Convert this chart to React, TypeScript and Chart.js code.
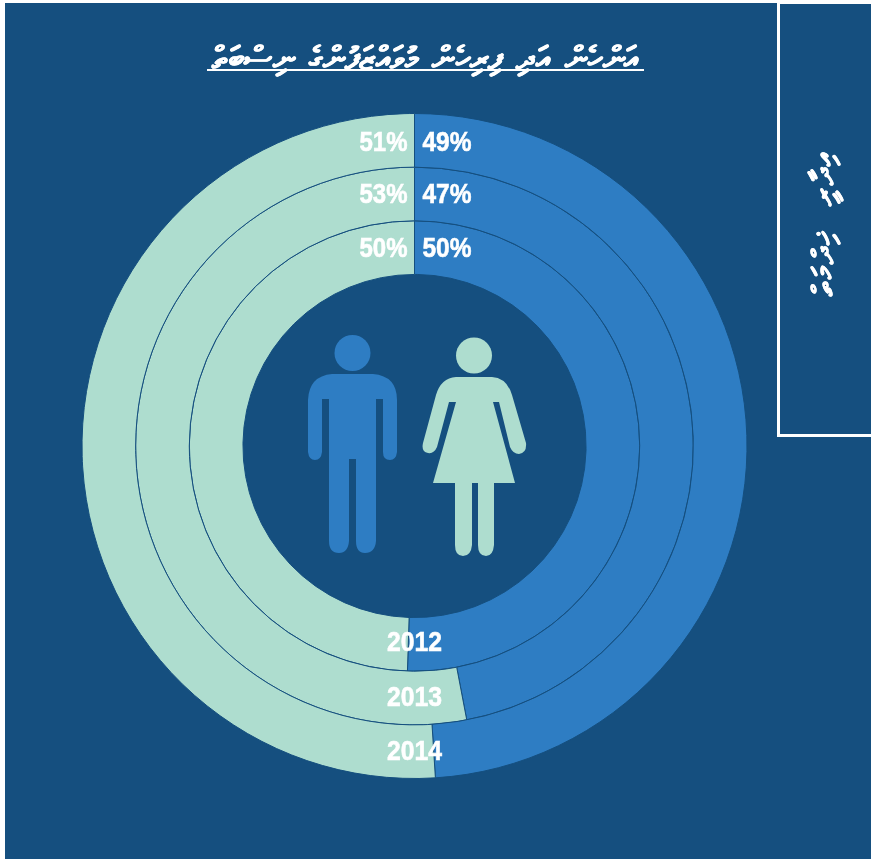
import React, { useEffect, useRef } from "react";
import { Chart, registerables } from "chart.js";

Chart.register(...registerables);

const titleText = "އަންހެން އަދި ފިރިހެން މުވައްޒަފުންގެ ނިސްބަތް";
const sideText = "އިދާރީ ޚިދްމަތް";
const categories = ["Men", "Women"];
const years = ["2014", "2013", "2012"];
const menValues = [49, 47, 50.5];
const womenValues = [51, 53, 49.5];
const menLabels = ["49%", "47%", "50%"];
const womenLabels = ["51%", "53%", "50%"];

const BG = "#154f7f";
const BLUE = "#2e7dc3";
const MINT = "#aeddcf";
const LABEL_FONT = 'bold 28px "Liberation Sans", sans-serif';
const THAANA = '"Noto Sans", "DejaVu Sans", sans-serif';
const topNudge = [3, 1, 2];
const bottomNudge = [1, 0, -1];

const ringLabels = {
  id: "ringLabels",
  afterDatasetsDraw(chart: any) {
    const ctx = chart.ctx;
    ctx.save();
    ctx.font = LABEL_FONT;
    ctx.fillStyle = "#ffffff";
    ctx.strokeStyle = "#ffffff";
    ctx.lineWidth = 0.6;
    ctx.textBaseline = "middle";
    const put = (text: string, x: number, y: number, w: number) => {
      ctx.fillText(text, x, y, w);
      ctx.strokeText(text, x, y, w);
    };
    years.forEach((year, i) => {
      const arc = chart.getDatasetMeta(i).data[0];
      const mid = (arc.innerRadius + arc.outerRadius) / 2;
      const topY = arc.y - mid + topNudge[i];
      ctx.textAlign = "right";
      put(womenLabels[i], arc.x - 7, topY, 48);
      ctx.textAlign = "left";
      put(menLabels[i], arc.x + 8, topY, 49);
      ctx.textAlign = "center";
      put(year, arc.x, arc.y + mid + bottomNudge[i], 55);
    });
    ctx.restore();
  },
};

function People() {
  return (
    <svg width={871} height={859} style={{ position: "absolute", left: 0, top: 0, pointerEvents: "none" }}>
      <g fill={BLUE}>
        <circle cx={352.5} cy={353} r={18} />
        <path d="M332 374 H373 Q397 376 397 400 V452 Q396 460 390 460 Q383 460 383 452 V399 H376 V541 Q375 553 365 553 Q356 553 356 541 V459 H349 V541 Q348 553 339 553 Q329 553 329 541 V399 H322 V452 Q321 460 315 460 Q309 460 308 452 V400 Q309 376 332 374 Z" />
      </g>
      <g fill={MINT}>
        <circle cx={474} cy={355.5} r={18} />
        <path d="M456 377 H492 Q507 378 512 395 L526 443 Q527 453 519 454 Q513 454 510 447 L499 402 H493 L515 483 H494 V545 Q493 556 486 556 Q478 556 478 545 V483 H472 V545 Q471 556 463 556 Q455 556 455 545 V483 H433 L456 402 H449 L437 447 Q434 454 428 453 Q421 452 423 443 L436 395 Q441 378 456 377 Z" />
      </g>
    </svg>
  );
}

export default function App() {
  const ref = useRef<HTMLCanvasElement>(null);
  useEffect(() => {
    const chart = new Chart(ref.current!, {
      type: "doughnut",
      data: {
        labels: categories,
        datasets: years.map((year, i) => ({
          label: year,
          data: [menValues[i], womenValues[i]],
          backgroundColor: [BLUE, MINT],
          borderColor: BG,
          borderWidth: 1,
        })),
      },
      options: {
        animation: false,
        responsive: false,
        cutout: "51.6%",
        layout: { padding: { left: 81.5, right: 123.5, top: 113, bottom: 80 } },
        plugins: { legend: { display: false }, tooltip: { enabled: false } },
      },
      plugins: [ringLabels],
    });
    return () => chart.destroy();
  }, []);

  return (
    <div style={{ position: "absolute", left: 0, top: 0, width: 871, height: 859, background: "#ffffff", overflow: "hidden" }}>
      <div style={{ position: "absolute", left: 5, top: 3, width: 866, height: 856, background: BG }} />
      <canvas ref={ref} width={871} height={859} style={{ position: "absolute", left: 0, top: 0 }} />
      <People />
      <div style={{ position: "absolute", left: 207, top: 69, width: 437, height: 2, background: "#fff" }} />
      <div
        dir="rtl"
        style={{
          position: "absolute", left: 200, top: 37, width: 451, height: 39,
          color: "#fff", font: `bold 32px ${THAANA}`, textAlign: "center", whiteSpace: "nowrap", lineHeight: "39px",
          wordSpacing: 5, letterSpacing: 0.5, WebkitTextStroke: "0.5px #fff",
        }}
      >
        {titleText}
      </div>
      <div style={{ position: "absolute", left: 777, top: 1, width: 100, height: 430, border: "3px solid #fff", boxSizing: "content-box" }} />
      <div
        dir="rtl"
        style={{
          position: "absolute", left: 822, top: 223, width: 240, height: 44, marginLeft: -120, marginTop: -22,
          transform: "rotate(-90deg)", color: "#fff", font: `bold 30px ${THAANA}`, textAlign: "center",
          whiteSpace: "nowrap", lineHeight: "44px", wordSpacing: 12, letterSpacing: 2.6, WebkitTextStroke: "0.4px #fff",
        }}
      >
        {sideText}
      </div>
    </div>
  );
}
